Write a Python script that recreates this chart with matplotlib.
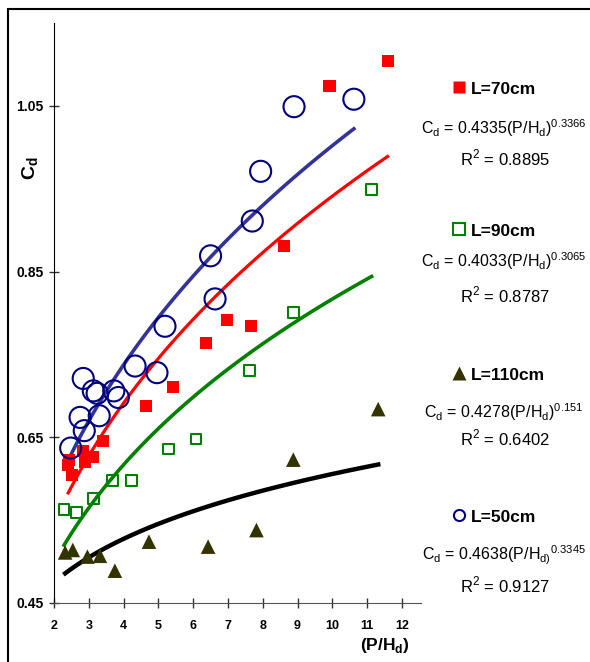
import matplotlib
matplotlib.use('Agg')
import matplotlib.pyplot as plt
import numpy as np
from matplotlib.patches import Rectangle
from matplotlib.lines import Line2D

plt.rcParams['font.family'] = ['Liberation Sans', 'DejaVu Sans']

# L = 50 cm (open circles)
x50 = [2.48, 2.75, 2.84, 2.87, 3.13, 3.24, 3.30, 3.72, 3.85, 4.33, 4.96, 5.19,
       6.50, 6.63, 7.70, 7.94, 8.90, 10.62]
y50 = [0.637, 0.674, 0.721, 0.658, 0.706, 0.703, 0.676, 0.706, 0.698, 0.736, 0.728, 0.784,
       0.869, 0.817, 0.911, 0.971, 1.049, 1.058]

# L = 70 cm (filled squares)
x70 = [2.41, 2.42, 2.51, 2.82, 2.89, 3.13, 3.40, 4.64, 5.43, 6.36, 6.96, 7.66, 8.62, 9.92, 11.59]
y70 = [0.617, 0.623, 0.604, 0.633, 0.620, 0.626, 0.646, 0.688, 0.711, 0.764, 0.791, 0.784,
       0.881, 1.074, 1.104]

# L = 90 cm (open squares)
x90 = [2.29, 2.65, 3.13, 3.69, 4.23, 5.30, 6.08, 7.61, 8.88, 11.13]
y90 = [0.563, 0.559, 0.576, 0.598, 0.598, 0.636, 0.648, 0.731, 0.801, 0.949]

# L = 110 cm (triangles)
x110 = [2.32, 2.54, 2.96, 3.32, 3.75, 4.73, 6.43, 7.82, 8.88, 11.32]
y110 = [0.511, 0.514, 0.506, 0.507, 0.489, 0.524, 0.518, 0.538, 0.623, 0.684]

# power fits Cd = a * (P/Hd)^b as printed on the chart
fit_a = {'70': 0.4335, '90': 0.4033, '110': 0.4278, '50': 0.4638}
fit_b = {'70': 0.3366, '90': 0.3065, '110': 0.151, '50': 0.3345}
fit_r2 = {'70': '0.8895', '90': '0.8787', '110': '0.6402', '50': '0.9127'}

W, H = 590, 662
fig = plt.figure(figsize=(W / 100, H / 100), dpi=100)
ax = fig.add_axes([54 / W, 1 - 603 / H, (421 - 54) / W, (603 - 23) / H])


def fit_curve(xs, key, color, lw):
    xx = np.linspace(min(xs), max(xs), 100)
    ax.plot(xx, fit_a[key] * xx ** fit_b[key], color=color, lw=lw, zorder=2)


fit_curve(x50, '50', '#333399', 2.6)
fit_curve(x70, '70', '#ff0000', 2.3)
fit_curve(x90, '90', '#008000', 2.6)
fit_curve(x110, '110', 'black', 3.2)

ax.scatter(x70, y70, marker='s', s=75, color='#ff0000', edgecolors='none', zorder=3)
ax.scatter(x90, y90, marker='s', s=60, facecolors='none', edgecolors='#008000', linewidths=1.5, zorder=3)
ax.scatter(x110, y110, marker='^', s=110, color='#333300', edgecolors='none', zorder=3)
ax.scatter(x50, y50, marker='o', s=230, facecolors='none', edgecolors='#000080', linewidths=1.5, zorder=4)

ax.set_xlim(2, 12.55)
ax.set_ylim(0.45, 1.15)
ax.set_xticks(range(2, 13))
ax.set_yticks([0.45, 0.65, 0.85, 1.05])
ax.set_yticklabels(['0.45', '0.65', '0.85', '1.05'], weight='bold', fontsize=10)
ax.set_xticklabels([str(i) for i in range(2, 13)], weight='bold', fontsize=9)
ax.tick_params(axis='x', direction='inout', length=7, width=1, pad=9, colors='#333333', labelcolor='black')
ax.tick_params(axis='y', direction='inout', length=7, width=1, pad=4, colors='#333333', labelcolor='black')
for s in ['top', 'right']:
    ax.spines[s].set_visible(False)
ax.spines['left'].set_color('black')
ax.spines['bottom'].set_color('#555555')

fig.text(31 / W, 1 - 168 / H, r'C$_\mathregular{d}$', rotation=90, ha='center', va='center',
         weight='bold', fontsize=14)
fig.text(385 / W, 1 - 636 / H, r'(P/H$_\mathregular{d}$)', ha='center', va='top',
         weight='bold', fontsize=12.5)

# outer frame (open on the right and bottom)
fig.patches.append(Rectangle((8 / W, -0.1), 1.2, 1.1 - 9 / H, transform=fig.transFigure,
                             fill=False, edgecolor='black', lw=1.5))


def legend_group(key, y_lab, y_eq, y_r2, marker, eq):
    mk = Line2D([459 / W], [1 - (y_lab - 7) / H], transform=fig.transFigure, **marker)
    fig.lines.append(mk)
    fig.text(471 / W, 1 - y_lab / H, 'L=' + key + 'cm', ha='left', va='baseline',
             weight='bold', fontsize=12.5)
    fig.text(504 / W, 1 - y_eq / H, eq, ha='center', va='baseline', fontsize=11.5)
    fig.text(505 / W, 1 - y_r2 / H, r'R$^\mathregular{2}$ = ' + fit_r2[key], ha='center',
             va='baseline', fontsize=12)


legend_group('70', 94, 134, 165,
             dict(marker='s', ms=9, color='#ff0000', mec='none', ls='none'),
             r'C$_\mathregular{d}$ = 0.4335(P/H$_\mathregular{d}$)$^\mathregular{0.3366}$')
legend_group('90', 236, 267, 302,
             dict(marker='s', ms=8, mfc='none', mec='#008000', mew=1.5, ls='none'),
             r'C$_\mathregular{d}$ = 0.4033(P/H$_\mathregular{d}$)$^\mathregular{0.3065}$')
legend_group('110', 380, 418, 445,
             dict(marker='^', ms=10, color='#333300', mec='none', ls='none'),
             r'C$_\mathregular{d}$ = 0.4278(P/H$_\mathregular{d}$)$^\mathregular{0.151}$')
legend_group('50', 522, 560, 592,
             dict(marker='o', ms=8, mfc='none', mec='#000080', mew=1.5, ls='none'),
             r'C$_\mathregular{d}$ = 0.4638(P/H$_\mathregular{d)}$$^\mathregular{0.3345}$')

fig.savefig('out.png', dpi=100)
